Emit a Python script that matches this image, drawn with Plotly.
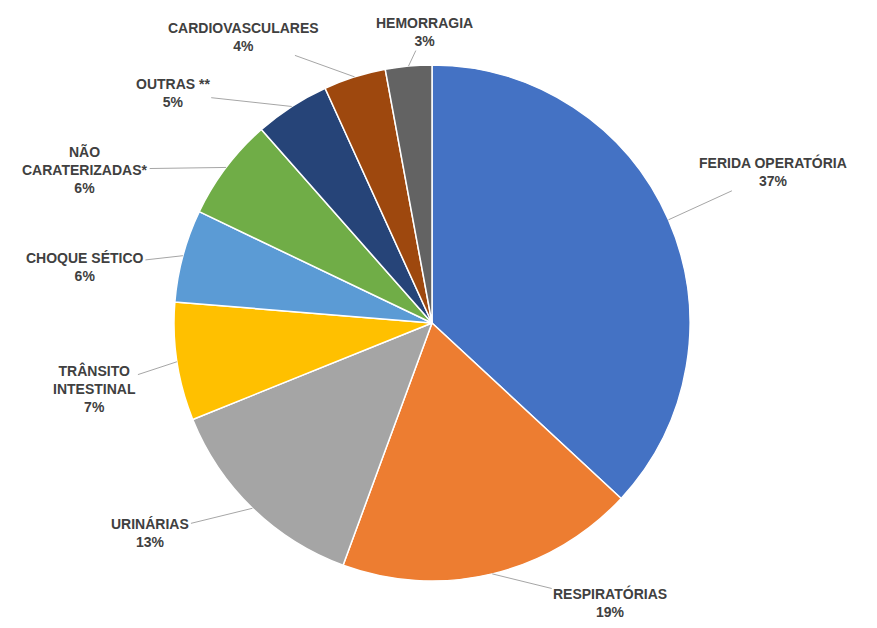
import math

import plotly.graph_objects as go

# ── Data ────────────────────────────────────────────────────────────────────
labels = [
    "FERIDA OPERATÓRIA",
    "RESPIRATÓRIAS",
    "URINÁRIAS",
    "TRÂNSITO<br>INTESTINAL",
    "CHOQUE SÉTICO",
    "NÃO<br>CARATERIZADAS*",
    "OUTRAS **",
    "CARDIOVASCULARES",
    "HEMORRAGIA",
]
values = [36.9, 18.7, 13.3, 7.4, 5.8, 6.4, 4.7, 3.9, 2.9]
colors = ["#4472C4", "#ED7D31", "#A5A5A5", "#FFC000", "#5B9BD5",
          "#70AD47", "#264478", "#9E480E", "#636363"]

# label offsets (pixels from slice edge to label centre)
label_offsets = [(105, -48), (118, 29), (-102, 25), (-82, 27), (-98, 11),
                 (-141, 2), (-119, -13), (-111, -40), (16, -34)]

W, H = 877, 628
PAGE_PAD = 8  # body margin of the html page
CX, CY, R = 432 - PAGE_PAD, 323 - PAGE_PAD, 258  # pie centre / radius (px)

fig = go.Figure(
    go.Pie(
        labels=labels,
        values=values,
        sort=False,
        direction="clockwise",
        rotation=0,
        marker=dict(colors=colors, line=dict(color="white", width=1.5)),
        textinfo="none",
        hoverinfo="label+percent",
        domain=dict(x=[(CX - R) / W, (CX + R) / W],
                    y=[1 - (CY + R) / H, 1 - (CY - R) / H]),
        showlegend=False,
    )
)

# outside labels with leader lines, placed from the slice mid-angles
total = sum(values)
cum = 0.0
annotations = []
for lab, v, (ax, ay) in zip(labels, values, label_offsets):
    mid = (cum + v / 2) / total * 2 * math.pi
    cum += v
    px = CX + R * math.sin(mid)
    py = CY - R * math.cos(mid)
    pct = round(v / total * 100)
    annotations.append(dict(
        x=px / W, y=1 - py / H, xref="paper", yref="paper",
        text=f"<b>{lab}<br>{pct}%</b>",
        showarrow=True, arrowhead=0, arrowwidth=1, arrowcolor="#A6A6A6",
        ax=ax, ay=ay, standoff=0,
        font=dict(family="Liberation Sans, Arial, sans-serif", size=14,
                  color="#404040"),
        align="center",
    ))

fig.update_layout(
    width=W,
    height=H,
    margin=dict(l=0, r=0, t=0, b=0),
    paper_bgcolor="white",
    plot_bgcolor="white",
    annotations=annotations,
)

fig.write_html("out.html")
